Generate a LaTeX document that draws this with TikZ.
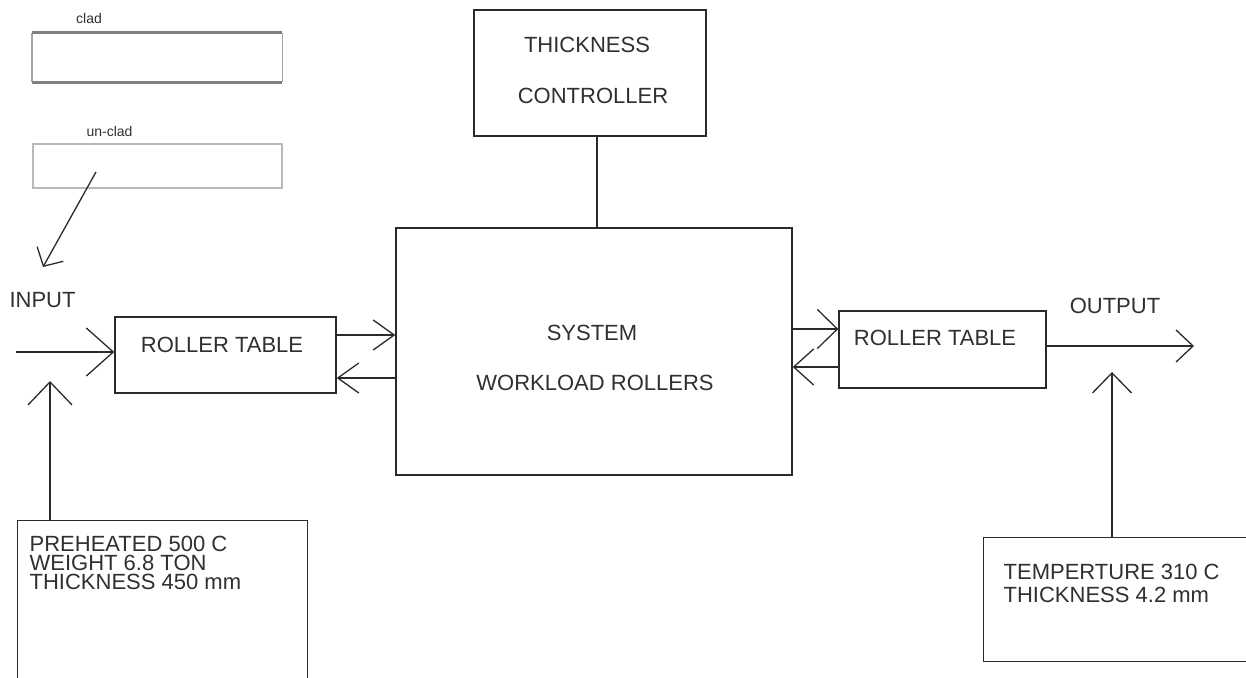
\documentclass[tikz,border=0pt]{standalone}
\usepackage{fontspec}
\setmainfont{Liberation Sans}
\usetikzlibrary{arrows.meta}
\definecolor{ink}{HTML}{2A2A2A}
\definecolor{txt}{HTML}{303030}
\begin{document}
\begin{tikzpicture}[x=1pt,y=-1pt,
  line width=1.3pt,
  box/.style={draw=ink, line width=1.4pt, rectangle, inner sep=0pt, fill=white},
  lbl/.style={text=txt, inner sep=0pt, font=\fontsize{22}{19}\selectfont},
  small/.style={text=txt, inner sep=0pt, font=\fontsize{14}{16}\selectfont},
  wire/.style={draw=ink, line width=1.3pt},
  openarrow/.style 2 args={wire, -{Straight Barb[length=#1,width=#2,line width=1.3pt]}}
]
\useasboundingbox (0,0) rectangle (1246,677);
\clip (0,0) rectangle (1246,677);
\fill[white] (0,0) rectangle (1246,677);

% material samples
\node[small] (cladlbl) at (89,18) {clad};
\node[rectangle, inner sep=0pt, minimum width=249pt, minimum height=48pt,
      anchor=north west] (clad) at (32,33) {};
\draw[draw=gray!70, line width=1.6pt] (clad.north west) -- (clad.south west)
      (clad.north east) -- (clad.south east);
\draw[draw=gray, line width=3pt] (clad.north west) -- (clad.north east)
      (clad.south west) -- (clad.south east);
\node[small] (uncladlbl) at (109.5,131) {un-clad};
\node[draw=gray!55, line width=1.8pt, rectangle, inner sep=0pt, minimum width=249pt,
      minimum height=44pt, anchor=north west] (unclad) at (32,143) {};

% main blocks
\node[box, minimum width=232pt, minimum height=126pt] (tc) at (590,73) {};
\node[lbl] at (587,44.5) {THICKNESS};
\node[lbl] at (593,96) {CONTROLLER};

\node[box, minimum width=396pt, minimum height=247pt] (sys) at (594,351.5) {};
\node[lbl] at (592,333) {SYSTEM};
\node[lbl] at (595,382.5) {WORKLOAD ROLLERS};

\node[box, minimum width=221pt, minimum height=76pt] (rt1) at (225.5,355) {};
\node[lbl] at (222,345) {ROLLER TABLE};

\node[box, minimum width=207pt, minimum height=77pt] (rt2) at (942.5,349.5) {};
\node[lbl] at (935,337.5) {ROLLER TABLE};

\node[box, minimum width=290pt, minimum height=190pt, anchor=north west] (pre) at (17,520) {};
\node[lbl, align=left, anchor=north west] (pretxt) at (29,535)
  {PREHEATED 500 C\\WEIGHT 6.8 TON\\THICKNESS 450 mm};

\node[box, minimum width=300pt, minimum height=124pt, anchor=north west] (outbox) at (983,537) {};
\node[lbl, align=left, anchor=north west, font=\fontsize{22}{23}\selectfont] (outtxt) at (1003,563)
  {TEMPERTURE 310 C\\THICKNESS 4.2 mm};

\node[lbl] (inlbl) at (42.5,300) {INPUT};
\node[lbl] (outlbl) at (1115,306) {OUTPUT};

% free ends of connectors
\coordinate (ucstart) at (96,172);
\coordinate (uctip) at (43,267);
\coordinate (instart) at (16,352);
\coordinate (preup) at (50,381);
\coordinate (outend) at (1194,346);
\coordinate (outup) at (1112,372);

% connectors
\draw[openarrow={14pt}{30pt}] (ucstart) -- (uctip);
\draw[openarrow={27pt}{48pt}] (instart) -- (instart -| rt1.west);
\draw[openarrow={23pt}{44pt}] (preup |- pre.north) -- (preup);

\draw[openarrow={21pt}{30pt}] (rt1.east |- 0,335) -- (sys.west |- 0,335);
\draw[openarrow={21pt}{30pt}] (sys.west |- 0,378) -- (rt1.east |- 0,378);

\draw[wire] (tc.south -| 597,0) -- (sys.north -| 597,0);

\draw[openarrow={20pt}{39pt}] (sys.east |- 0,329) -- (rt2.west |- 0,329);
\draw[openarrow={20pt}{36pt}] (rt2.west |- 0,367) -- (sys.east |- 0,367);

\draw[openarrow={17pt}{32pt}] (rt2.east |- outend) -- (outend);
\draw[openarrow={20pt}{39pt}] (outup |- outbox.north) -- (outup);
\end{tikzpicture}
\end{document}
